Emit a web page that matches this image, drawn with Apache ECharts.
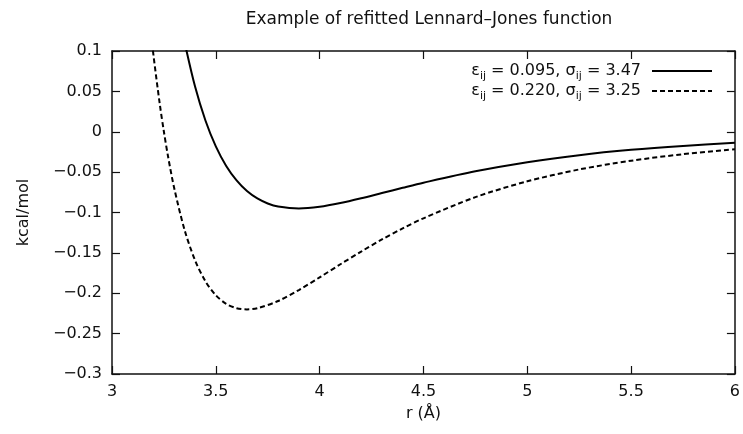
<!DOCTYPE html>
<html>
<head>
<meta charset="utf-8">
<script src="https://cdn.jsdelivr.net/npm/echarts@6/dist/echarts.min.js"></script>
<style>
  html, body { margin: 0; padding: 0; background: #fff; }
  #chart { width: 743px; height: 434px; }
</style>
</head>
<body>
<div id="chart"></div>
<script>
// Fitted parameters for the two Lennard-Jones curves
const epsilons = ['0.095', '0.220'];
const sigmas = ['3.47', '3.25'];

// Sampled potential energy (kcal/mol) against distance r (Å)
const rSolid = [3.33, 3.35, 3.40, 3.45, 3.50, 3.55, 3.60, 3.65, 3.70, 3.75, 3.80, 3.90, 4.00, 4.10, 4.20, 4.30, 4.40, 4.50, 4.75, 5.00, 5.25, 5.50, 5.75, 6.00];
const vSolid = [0.1364, 0.1104, 0.0559, 0.0139, -0.0182, -0.0424, -0.0603, -0.0734, -0.0826, -0.0888, -0.0926, -0.0950, -0.0929, -0.0883, -0.0824, -0.0759, -0.0694, -0.0631, -0.0490, -0.0377, -0.0290, -0.0224, -0.0175, -0.0137];

const rDashed = [3.18, 3.20, 3.23, 3.25, 3.27, 3.30, 3.35, 3.40, 3.45, 3.50, 3.55, 3.60, 3.65, 3.70, 3.80, 3.90, 4.00, 4.10, 4.20, 4.30, 4.40, 4.50, 4.75, 5.00, 5.25, 5.50, 5.75, 6.00];
const vDashed = [0.1400, 0.0942, 0.0345, 0.0000, -0.0307, -0.0703, -0.1220, -0.1592, -0.1852, -0.2025, -0.2131, -0.2185, -0.2200, -0.2185, -0.2096, -0.1960, -0.1803, -0.1641, -0.1484, -0.1334, -0.1197, -0.1072, -0.0810, -0.0614, -0.0467, -0.0359, -0.0278, -0.0217];

const xTicks = { min: 3, max: 6, interval: 0.5 };
const yTicks = { min: -0.3, max: 0.1, interval: 0.05 };

const seriesNames = ['curve1', 'curve2'];

const font = 'DejaVu Sans, Verdana, sans-serif';
const ink = '#111';

const zip = (xs, ys) => xs.map((x, i) => [x, ys[i]]);

const axisCommon = {
  axisLine: { show: true, onZero: false, lineStyle: { color: ink, width: 1.5 } },
  axisTick: { show: true, inside: true, length: 8, lineStyle: { color: ink, width: 1.2 } },
  splitLine: { show: false },
  axisLabel: { color: ink, fontSize: 16, fontFamily: font }
};

const chart = echarts.init(document.getElementById('chart'), null, { renderer: 'canvas' });

chart.setOption({
  animation: false,
  backgroundColor: '#fff',
  title: {
    text: 'Example of refitted Lennard\u2013Jones function',
    left: 424, top: 6, textAlign: 'center',
    textStyle: { fontSize: 17, fontWeight: 'normal', color: ink, fontFamily: font }
  },
  grid: { left: 112, right: 7, top: 51, bottom: 60 },
  legend: {
    orient: 'vertical',
    right: 25, top: 58,
    align: 'right',
    itemWidth: 60, itemHeight: 12, itemGap: 1,
    data: seriesNames,
    itemStyle: { opacity: 0, borderWidth: 0 },
    formatter: name => {
      const i = seriesNames.indexOf(name);
      return '{m|\u03b5}{s|ij}{m| = ' + epsilons[i] + ', \u03c3}{s|ij}{m| = ' + sigmas[i] + '}{g|}';
    },
    textStyle: {
      color: ink, fontFamily: font, fontSize: 16,
      rich: {
        m: { fontSize: 16, fontFamily: font, color: ink, lineHeight: 16, verticalAlign: 'top' },
        s: { fontSize: 11, fontFamily: font, color: ink, lineHeight: 11, verticalAlign: 'top', padding: [8, 0, 0, 0] },
        g: { width: 6, lineHeight: 16 }
      }
    }
  },
  xAxis: [
    Object.assign({}, axisCommon, {
      type: 'value', position: 'bottom',
      min: xTicks.min, max: xTicks.max, interval: xTicks.interval,
      name: 'r (\u00c5)', nameLocation: 'middle', nameGap: 32,
      nameTextStyle: { color: ink, fontSize: 16, fontFamily: font },
      axisLabel: Object.assign({}, axisCommon.axisLabel, { margin: 10 })
    }),
    Object.assign({}, axisCommon, {
      type: 'value', position: 'top',
      min: xTicks.min, max: xTicks.max, interval: xTicks.interval,
      axisLabel: { show: false }
    })
  ],
  yAxis: [
    Object.assign({}, axisCommon, {
      type: 'value', position: 'left',
      min: yTicks.min, max: yTicks.max, interval: yTicks.interval,
      name: 'kcal/mol', nameLocation: 'middle', nameGap: 80, nameRotate: 90,
      nameTextStyle: { color: ink, fontSize: 16, fontFamily: font },
      axisLabel: Object.assign({}, axisCommon.axisLabel, {
        margin: 10,
        formatter: v => String(Math.round(v * 100) / 100).replace('-', '\u2212')
      })
    }),
    Object.assign({}, axisCommon, {
      type: 'value', position: 'right',
      min: yTicks.min, max: yTicks.max, interval: yTicks.interval,
      axisLabel: { show: false }
    })
  ],
  series: [
    {
      name: seriesNames[0], type: 'line', data: zip(rSolid, vSolid),
      smooth: 0.3, symbol: 'none', clip: true,
      lineStyle: { color: '#000', width: 2 }, itemStyle: { color: '#000' }
    },
    {
      name: seriesNames[1], type: 'line', data: zip(rDashed, vDashed),
      smooth: 0.3, symbol: 'none', clip: true,
      lineStyle: { color: '#000', width: 2, type: [5, 3] }, itemStyle: { color: '#000' }
    }
  ]
});
</script>
</body>
</html>
